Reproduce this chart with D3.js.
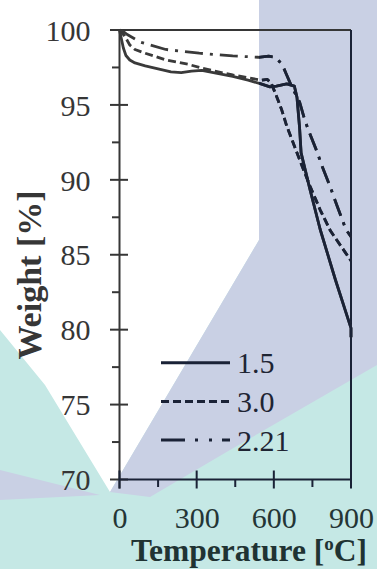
<!DOCTYPE html>
<html><head><meta charset="utf-8">
<script src="https://cdn.jsdelivr.net/npm/d3@7"></script>
<style>html,body{margin:0;padding:0;background:#fff;overflow:hidden}svg{display:block}
text{font-family:"Liberation Serif","Times New Roman",Times,Tinos,"DejaVu Serif",serif;}</style>
</head><body><svg id="c" width="377" height="569" viewBox="0 0 377 569"></svg>
<script>
// ---- data ----
const xTicks = [0, 300, 600, 900];
const xMinorTicks = [150, 450, 750];
const yTicks = [70, 75, 80, 85, 90, 95, 100];
const yMinorTicks = [72.5, 77.5, 82.5, 87.5, 92.5, 97.5];
const seriesNames = ["1.5", "3.0", "2.21"];

const tempA = [0, 5, 15, 25, 40, 60, 100, 150, 200, 240, 280, 320, 380, 440, 500, 550, 585, 610, 650, 680, 690, 700, 706, 740, 780, 840, 900, 900];
const weightA = [100, 99.6, 98.8, 98.3, 98.0, 97.8, 97.6, 97.4, 97.2, 97.15, 97.25, 97.3, 97.1, 96.9, 96.65, 96.4, 96.2, 96.25, 96.4, 96.25, 95.5, 93.5, 91.8, 89.4, 86.7, 83.3, 80.1, 79.5];

const tempB = [0, 20, 40, 60, 100, 180, 270, 320, 440, 550, 575, 590, 610, 630, 650, 690, 740, 780, 820, 860, 900];
const weightB = [100, 99.6, 99.0, 98.7, 98.45, 98.0, 97.7, 97.45, 97.0, 96.65, 96.7, 96.45, 95.6, 94.7, 93.6, 91.8, 89.6, 88.0, 86.6, 85.6, 84.6];

const tempC = [0, 15, 30, 80, 180, 310, 440, 540, 580, 600, 615, 635, 650, 670, 700, 720, 735, 765, 790, 820, 845, 880, 900];
const weightC = [100, 99.9, 99.7, 99.2, 98.7, 98.45, 98.27, 98.18, 98.25, 98.2, 98.05, 97.6, 97.0, 96.2, 95.2, 94.0, 93.3, 92.0, 90.8, 89.5, 88.3, 86.7, 86.2];

// ---- drawing ----
const svg = d3.select("#c");
const ink = "#363636";
const lineInk = "#1a2236";

// background watermark (decorative)
const lav = "#c9d0e4", teal = "#c5e8e5";
const bg = svg.append("g");
bg.append("rect").attr("x", 0).attr("y", 0).attr("width", 377).attr("height", 569).attr("fill", teal);
bg.append("path").attr("d", "M0,0 L259,0 L259,240 L110,492 L45,385 L0,330 Z").attr("fill", "#fff");
bg.append("path").attr("d", "M259,0 L377,0 L377,365 L230,450 L150,497 L110,492 L259,240 Z").attr("fill", lav);
bg.append("path").attr("d", "M0,470 L100,495 L0,500 Z").attr("fill", lav);
svg.append("defs").append("clipPath").attr("id", "tint")
  .append("path").attr("d", "M259,0 L377,0 L377,569 L0,569 L0,330 L45,385 L110,492 L259,240 Z");

const x = d3.scaleLinear().domain([0, 900]).range([119.5, 351]);
const y = d3.scaleLinear().domain([70, 100]).range([479.5, 30]);

const g = svg.append("g");

// frame
g.append("line").attr("x1", x(0)).attr("x2", x(900)).attr("y1", y(100)).attr("y2", y(100)).attr("stroke", ink).attr("stroke-width", 2);
g.append("line").attr("x1", x(900)).attr("x2", x(900)).attr("y1", y(100)).attr("y2", y(70)).attr("stroke", lineInk).attr("stroke-width", 2);

// y axis
const yAxis = d3.axisLeft(y).tickValues(yTicks).tickSize(0).tickPadding(29).tickFormat(d3.format("d"));
const ya = g.append("g").attr("transform", `translate(${x(0)},0)`).call(yAxis);
ya.attr("font-family", null).attr("font-size", null);
ya.select(".domain").remove();
ya.selectAll("text").attr("font-size", 30).attr("fill", ink).attr("dy", "0.34em");
g.append("line").attr("x1", x(0)).attr("x2", x(0)).attr("y1", y(100)).attr("y2", y(70) + 9).attr("stroke", ink).attr("stroke-width", 2);
g.selectAll(".ymaj").data(yTicks).join("line").attr("x1", x(0) - 9.5).attr("x2", x(0) + 8.5)
  .attr("y1", d => y(d)).attr("y2", d => y(d)).attr("stroke", ink).attr("stroke-width", 2);
g.selectAll(".ymin").data(yMinorTicks).join("line").attr("x1", x(0) - 7.5).attr("x2", x(0))
  .attr("y1", d => y(d)).attr("y2", d => y(d)).attr("stroke", ink).attr("stroke-width", 2);

// x axis
const xAxis = d3.axisBottom(x).tickValues(xTicks).tickSize(0).tickPadding(27);
const xa = g.append("g").attr("transform", `translate(0,${y(70)})`).call(xAxis);
xa.attr("font-family", null).attr("font-size", null);
xa.select(".domain").remove();
xa.selectAll("text").attr("font-size", 30).attr("fill", "#243535").attr("dy", "0.71em");
g.append("line").attr("x1", x(0)).attr("x2", x(900)).attr("y1", y(70)).attr("y2", y(70)).attr("stroke", lineInk).attr("stroke-width", 2);
g.selectAll(".xmaj").data(xTicks).join("line").attr("x1", d => x(d)).attr("x2", d => x(d))
  .attr("y1", y(70) - 9).attr("y2", y(70) + 9).attr("stroke", lineInk).attr("stroke-width", 2);
g.selectAll(".xmin").data(xMinorTicks).join("line").attr("x1", d => x(d)).attr("x2", d => x(d))
  .attr("y1", y(70)).attr("y2", y(70) + 7.5).attr("stroke", lineInk).attr("stroke-width", 2);

// series: grey ink on white, darker navy ink where the tint lies
const lineLin = d3.line().x(d => x(d[0])).y(d => y(d[1]));
const series = [
  { name: seriesNames[0], pts: d3.zip(tempA, weightA), dash: null, legendDash: null },
  { name: seriesNames[1], pts: d3.zip(tempB, weightB), dash: "8,4", legendDash: "8,4" },
  { name: seriesNames[2], pts: d3.zip(tempC, weightC), dash: "18,7,3,7", legendDash: "24,10,3,11,3,10" }
];
const plain = g.append("g");
const tinted = g.append("g").attr("clip-path", "url(#tint)");
series.forEach(s => {
  [[plain, "#3a3a3a"], [tinted, lineInk]].forEach(([layer, col]) => {
    layer.append("path").attr("d", lineLin(s.pts)).attr("fill", "none").attr("stroke", col)
      .attr("stroke-width", 2.8).attr("stroke-linejoin", "round").attr("stroke-dasharray", s.dash);
  });
});

// legend
const lg = g.append("g");
series.forEach((s, i) => {
  const ly = 362.7 + i * 38.7;
  lg.append("line").attr("x1", 161).attr("x2", 230).attr("y1", ly).attr("y2", ly)
    .attr("stroke", lineInk).attr("stroke-width", 3).attr("stroke-dasharray", s.legendDash);
  lg.append("text").attr("x", 237).attr("y", ly + 10.5).text(s.name)
    .attr("font-size", 30).attr("fill", "#1e2433");
});

// titles
const xt = g.append("text").attr("x", 249).attr("y", 561).attr("text-anchor", "middle")
  .attr("font-weight", "bold").attr("font-size", 31.5).attr("fill", "#1f3333");
xt.append("tspan").text("Temperature [");
xt.append("tspan").text("o").attr("dy", -11).attr("font-size", 19);
xt.append("tspan").text("C]").attr("dy", 11);
g.append("text").attr("transform", "translate(41,275) rotate(-90)").attr("text-anchor", "middle")
  .attr("font-weight", "bold").attr("font-size", 34).attr("fill", ink)
  .text("Weight [%]");
</script></body></html>
